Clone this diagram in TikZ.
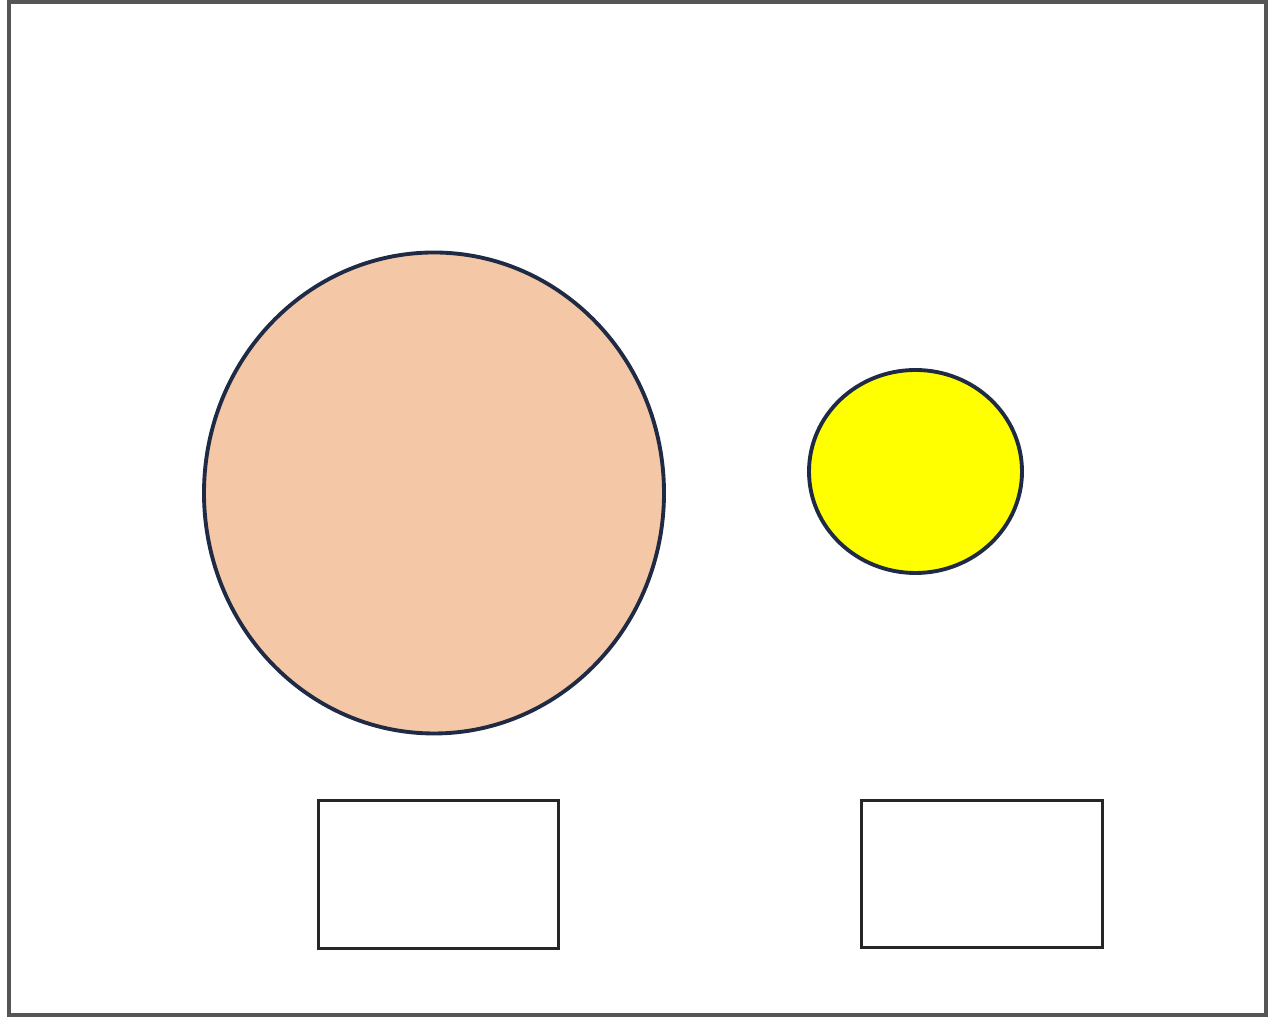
\documentclass[tikz,border=0pt]{standalone}
\usepackage{xcolor}
\usepackage{tikz}
\usetikzlibrary{shapes.geometric,positioning}

\definecolor{peach}{HTML}{F4C7A6}
\definecolor{sunyellow}{HTML}{FFFF00}
\definecolor{navyline}{HTML}{1F2A44}
\definecolor{frameline}{HTML}{555555}

\begin{document}
\begin{tikzpicture}[
  every node/.style={inner sep=0pt, outer sep=0pt},
  blob/.style={ellipse, draw=navyline, line width=2.2pt},
  box/.style={rectangle, draw=black!85, line width=1.5pt}
]
  \useasboundingbox (0,0) rectangle (25.4,20.36);
  \draw[frameline, line width=1.8pt] (0.18,0.06) rectangle (25.32,20.32);

  \node[blob, fill=peach, minimum width=9.2cm, minimum height=9.62cm]  (big)   at (8.68,10.5)  {};
  \node[blob, fill=sunyellow, minimum width=4.26cm, minimum height=4.06cm] (small) at (18.31,10.93) {};

  \node[box, minimum width=4.8cm, minimum height=2.96cm] (boxa) at (8.77,2.87) {};
  \node[box, minimum width=4.82cm, minimum height=2.94cm] (boxb) at (19.64,2.88) {};
\end{tikzpicture}
\end{document}
